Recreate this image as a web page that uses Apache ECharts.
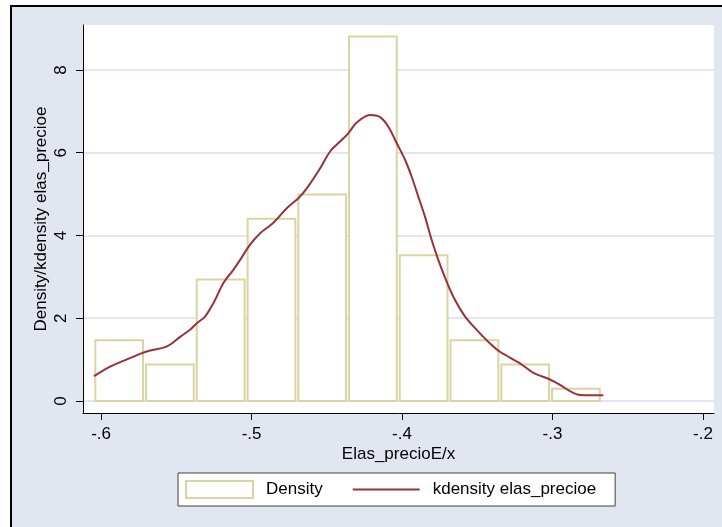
<!DOCTYPE html>
<html><head><meta charset="utf-8">
<script src="https://cdn.jsdelivr.net/npm/echarts@6/dist/echarts.min.js"></script>
<style>
html,body{margin:0;padding:0;background:#fff;overflow:hidden;width:722px;height:527px}
#frame{position:absolute;left:10px;top:5px;width:800px;height:600px;background:#e1e6f0;border:2px solid #000;box-sizing:border-box}
#c{position:absolute;left:0;top:0;width:722px;height:527px}
</style>
</head><body><div id="frame"></div><div id="c"></div>
<script>
// Histogram bins (edges) and density heights
const binEdges = [-0.6048, -0.5711, -0.5374, -0.5036, -0.4699, -0.4362, -0.4025, -0.3688, -0.3350, -0.3013, -0.2676];
const densityValues = [1.468, 0.881, 2.936, 4.404, 4.991, 8.810, 3.523, 1.468, 0.881, 0.294];

// Kernel density curve
const kdeX = [-0.6047,-0.594,-0.5852,-0.5741,-0.5674,-0.5586,-0.5542,-0.5475,-0.5409,-0.5364,-0.5309,-0.5254,-0.5187,-0.5121,-0.5076,-0.501,-0.4944,-0.4855,-0.4766,-0.4689,-0.4633,-0.4545,-0.4478,-0.4412,-0.4357,-0.4301,-0.4213,-0.4146,-0.4091,-0.4035,-0.398,-0.3936,-0.3892,-0.3847,-0.3803,-0.3759,-0.3703,-0.3648,-0.3581,-0.3504,-0.3415,-0.3349,-0.3216,-0.3127,-0.3017,-0.295,-0.2884,-0.2817,-0.2751,-0.2662];
const kdeY = [0.60,0.83,0.97,1.14,1.22,1.29,1.36,1.55,1.72,1.88,2.04,2.36,2.85,3.17,3.41,3.78,4.05,4.31,4.66,4.90,5.14,5.62,6.03,6.27,6.47,6.73,6.91,6.86,6.63,6.23,5.83,5.42,4.94,4.45,3.89,3.41,2.88,2.44,2.04,1.72,1.39,1.19,0.91,0.68,0.52,0.39,0.24,0.145,0.14,0.14];

// Axis ticks
const xTicks = [-0.6, -0.5, -0.4, -0.3, -0.2];
const xTickLabels = ['-.6', '-.5', '-.4', '-.3', '-.2'];
const yTicks = [0, 2, 4, 6, 8];
const yTickLabels = ['0', '2', '4', '6', '8'];

const FONT = '"Liberation Sans", Arial, sans-serif';
const BAR_COLOR = '#d9d4a2';
const LINE_COLOR = '#983238';

function lab(ticks, labels) {
  return function (v) {
    for (let i = 0; i < ticks.length; i++) if (Math.abs(ticks[i] - v) < 1e-9) return labels[i];
    return '';
  };
}

const chart = echarts.init(document.getElementById('c'), null, {renderer: 'canvas'});
chart.setOption({
  animation: false,
  backgroundColor: 'transparent',
  grid: {left: 83, top: 25, width: 631, height: 388, show: true, backgroundColor: '#fff', borderWidth: 0},
  xAxis: {
    type: 'value', min: -0.612, max: -0.1927,
    name: 'Elas_precioE/x', nameLocation: 'middle', nameGap: 33, nameMoveOverlap: false,
    nameTextStyle: {fontSize: 17, fontFamily: FONT, color: '#000'},
    axisLine: {show: true, onZero: false, lineStyle: {color: '#000', width: 1}},
    axisTick: {show: true, length: 7, customValues: xTicks, lineStyle: {color: '#000'}},
    axisLabel: {customValues: xTicks, formatter: lab(xTicks, xTickLabels), fontSize: 17, fontFamily: FONT, color: '#000', margin: 13},
    splitLine: {show: false}
  },
  yAxis: {
    type: 'value', min: -0.29, max: 9.087,
    name: 'Density/kdensity elas_precioe', nameLocation: 'middle', nameGap: 33, nameMoveOverlap: false,
    nameTextStyle: {fontSize: 17, fontFamily: FONT, color: '#000'},
    axisLine: {show: true, onZero: false, lineStyle: {color: '#000', width: 1}},
    axisTick: {show: true, length: 7, customValues: yTicks, lineStyle: {color: '#000'}},
    axisLabel: {customValues: yTicks, formatter: lab(yTicks, yTickLabels), rotate: 90, fontSize: 17, fontFamily: FONT, color: '#000', margin: 13},
    splitLine: {show: true, lineStyle: {color: '#e1e6f0', width: 2}}
  },
  legend: {
    left: 178, top: 473, orient: 'horizontal',
    itemWidth: 67, itemHeight: 17, itemGap: 30,
    padding: [7, 19, 7, 7],
    backgroundColor: '#fff', borderColor: '#404040', borderWidth: 1, borderRadius: 0,
    textStyle: {fontSize: 17, fontFamily: FONT, color: '#000', padding: [0, 0, 0, 8]},
    data: [
      {name: 'Density', icon: 'rect', itemStyle: {color: '#fff', borderColor: BAR_COLOR, borderWidth: 2}},
      {name: 'kdensity elas_precioe', icon: 'path://M0,0h67v2h-67z', itemStyle: {color: LINE_COLOR, borderWidth: 0}}
    ]
  },
  series: [
    {
      name: 'Density', type: 'custom',
      encode: {x: [0, 1], y: 2},
      data: densityValues.map((v, i) => [binEdges[i], binEdges[i + 1], v]),
      itemStyle: {color: '#fff', borderColor: BAR_COLOR},
      renderItem: function (params, api) {
        const p1 = api.coord([api.value(0), api.value(2)]);
        const p2 = api.coord([api.value(1), 0]);
        return {
          type: 'rect',
          shape: {x: p1[0] + 1.5, y: p1[1], width: p2[0] - p1[0] - 3, height: p2[1] - p1[1]},
          style: {fill: '#fff', stroke: BAR_COLOR, lineWidth: 2}
        };
      },
      z: 2
    },
    {
      name: 'kdensity elas_precioe', type: 'line',
      data: kdeX.map((x, i) => [x, kdeY[i]]),
      showSymbol: false, symbol: 'none', smooth: 0.3,
      lineStyle: {color: LINE_COLOR, width: 2},
      itemStyle: {color: LINE_COLOR},
      z: 3
    }
  ]
});
</script>
</body></html>
